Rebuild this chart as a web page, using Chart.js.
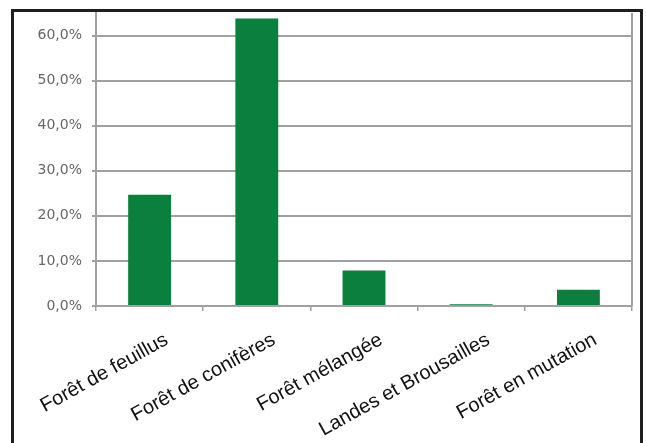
<!DOCTYPE html>
<html><head><meta charset="utf-8">
<script src="https://cdn.jsdelivr.net/npm/chart.js@4/dist/chart.umd.min.js"></script>
<style>
html,body{margin:0;padding:0;background:#fff;width:646px;height:443px;overflow:hidden}
#wrap{position:absolute;left:0;top:0;width:646px;height:443px}
#frame{position:absolute;left:11px;top:9px;width:626px;height:450px;border:3px solid #1e1e1e;pointer-events:none}
</style></head>
<body>
<div id="wrap"><canvas id="c" width="646" height="443"></canvas></div>
<div id="frame"></div>
<script>
const categories = ["Forêt de feuillus","Forêt de conifères","Forêt mélangée","Landes et Brousailles","Forêt en mutation"];
const values = [0.247, 0.638, 0.079, 0.004, 0.036];
const yTicks = [0,0.1,0.2,0.3,0.4,0.5,0.6];
const yMax = 0.65;

const rightBorder = {
  id:'rightBorder',
  afterDraw(chart){
    const {ctx, chartArea:a} = chart;
    ctx.save();
    ctx.strokeStyle='#a0a0a0'; ctx.lineWidth=2;
    ctx.beginPath(); ctx.moveTo(a.right, a.top); ctx.lineTo(a.right, a.bottom); ctx.stroke();
    ctx.restore();
  }
};

new Chart(document.getElementById('c'), {
  type:'bar',
  data:{labels:categories, datasets:[{data:values, backgroundColor:'#0b7f3e', borderWidth:0, barPercentage:0.4, categoryPercentage:1}]},
  options:{
    responsive:false, animation:false,
    layout:{padding:{left:14,right:14,top:13,bottom:0}},
    plugins:{legend:{display:false},tooltip:{enabled:false}},
    scales:{
      x:{
        grid:{display:true, drawOnChartArea:false, drawTicks:true, tickLength:5, color:'#a0a0a0', lineWidth:1.5, offset:true},
        border:{display:true, color:'#a0a0a0', width:2},
        ticks:{minRotation:29, maxRotation:29, autoSkip:false, labelOffset:17, padding:17, color:'#111', font:{family:'"Liberation Sans", Arial, sans-serif', size:20}},
        afterFit(s){ s.height = 137; s.paddingLeft = 0; s.paddingRight = 0; }
      },
      y:{
        min:0, max:yMax,
        afterBuildTicks(s){ s.ticks = yTicks.map(v=>({value:v})); },
        grid:{color:'#a0a0a0', lineWidth:2, tickLength:4, drawTicks:true},
        border:{display:true, color:'#a0a0a0', width:2},
        ticks:{padding:10, color:'#666', font:{family:'"DejaVu Sans", sans-serif', size:14},
          callback:(v)=> (v*100).toFixed(1).replace('.',',')+'%'},
        afterFit(s){ s.width = 82; s.paddingTop = 0; s.paddingBottom = 0; }
      }
    }
  },
  plugins:[rightBorder]
});
</script>
</body></html>
